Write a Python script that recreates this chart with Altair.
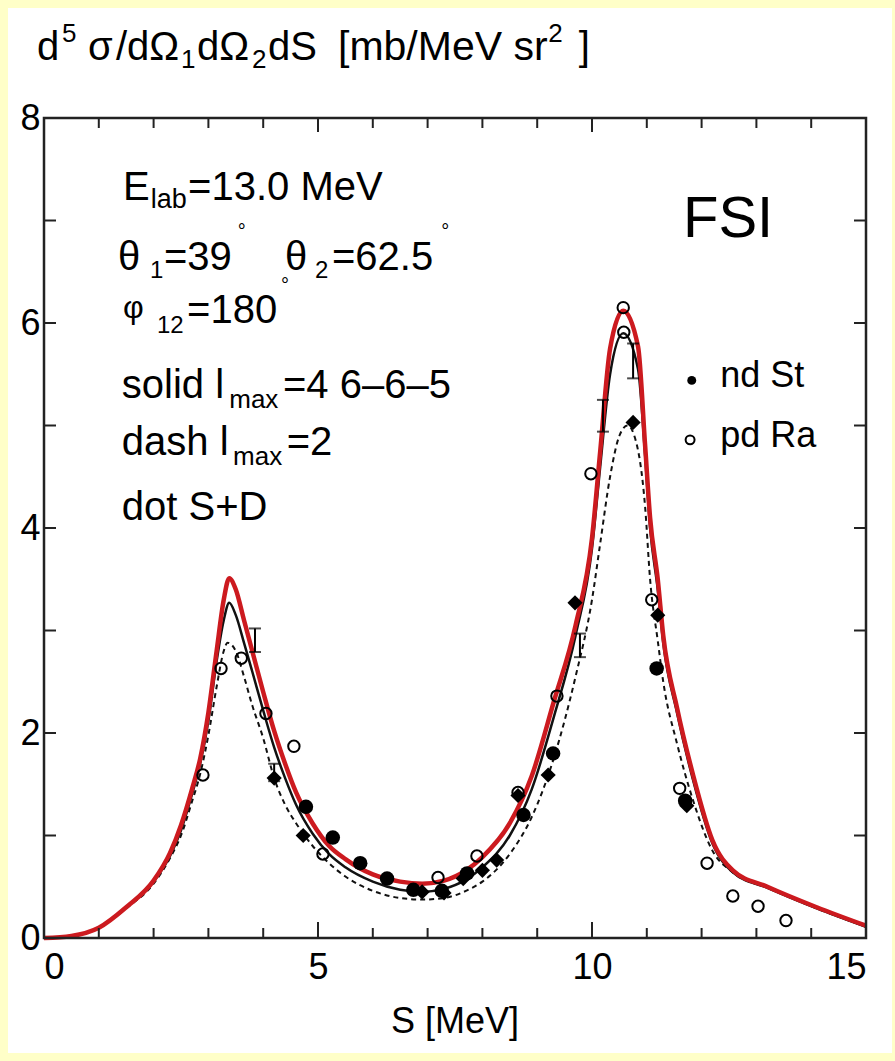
import altair as alt
import pandas as pd

FONT = "Liberation Sans"

# ---- theory curves ----
red_s = [0, 0.5, 1.0, 1.5, 2.0, 2.3, 2.5, 2.7, 2.85, 3.0, 3.15, 3.28, 3.38, 3.5, 3.65, 3.8, 4.0, 4.2, 4.4, 4.6,
         4.9, 5.2, 5.5, 6.0, 6.5, 6.9, 7.3, 7.7, 8.0, 8.5, 8.9, 9.3, 9.7, 10.0, 10.15, 10.33, 10.57, 10.84, 10.97,
         11.06, 11.2, 11.3, 11.55, 11.84, 12.2, 12.57, 13.2, 14.1, 15.0]
red_y = [0, 0.02, 0.1, 0.3, 0.56, 0.83, 1.1, 1.45, 1.75, 2.2, 2.8, 3.3, 3.51, 3.4, 3.1, 2.8, 2.4, 2.02, 1.7, 1.42,
         1.12, 0.9, 0.77, 0.62, 0.55, 0.53, 0.56, 0.66, 0.79, 1.12, 1.58, 2.3, 3.05, 3.9, 4.75, 5.75, 6.12, 5.77, 4.8,
         4.1, 3.5, 2.95, 2.25, 1.6, 0.95, 0.66, 0.5, 0.3, 0.12]

black_s = red_s
black_y = [0, 0.02, 0.1, 0.3, 0.55, 0.8, 1.05, 1.4, 1.7, 2.12, 2.7, 3.1, 3.27, 3.15, 2.88, 2.6, 2.22, 1.86, 1.56, 1.3,
           1.02, 0.82, 0.69, 0.55, 0.47, 0.45, 0.48, 0.57, 0.69, 1.0, 1.45, 2.15, 2.95, 3.8, 4.6, 5.5, 5.9, 5.55, 4.7,
           4.0, 3.4, 2.88, 2.2, 1.55, 0.92, 0.64, 0.49, 0.29, 0.11]

dash_s = [0, 0.5, 1.0, 1.5, 2.0, 2.3, 2.5, 2.7, 2.85, 3.0, 3.15, 3.28, 3.35, 3.5, 3.65, 3.8, 4.0, 4.2, 4.4, 4.6,
          4.9, 5.2, 5.5, 6.0, 6.5, 6.9, 7.3, 7.7, 8.0, 8.5, 8.9, 9.3, 9.7, 10.0, 10.15, 10.33, 10.5, 10.65, 10.8,
          10.97, 11.06, 11.2, 11.3, 11.55, 11.84, 12.2, 12.57, 13.2, 14.1, 15.0]
dash_y = [0, 0.02, 0.1, 0.29, 0.53, 0.78, 1.0, 1.33, 1.6, 1.98, 2.45, 2.8, 2.88, 2.8, 2.55, 2.27, 1.95, 1.56, 1.3, 1.12,
          0.9, 0.73, 0.6, 0.46, 0.39, 0.375, 0.39, 0.46, 0.55, 0.82, 1.18, 1.75, 2.55, 3.3, 3.85, 4.5, 4.9, 5.0, 4.85,
          4.2, 3.5, 2.9, 2.5, 1.9, 1.35, 0.85, 0.64, 0.49, 0.29, 0.11]

# ---- data points ----
nd_s = [4.78, 5.27, 5.77, 6.26, 6.74, 7.26, 7.72, 8.75, 9.29, 11.18, 11.7]
nd_y = [1.28, 0.98, 0.73, 0.58, 0.47, 0.46, 0.63, 1.2, 1.8, 2.63, 1.34]

pd_s = [2.9, 3.23, 3.6, 4.05, 4.56, 5.09, 7.19, 7.9, 8.65, 9.36, 9.98, 10.57, 10.58, 11.09, 11.6, 12.1, 12.57,
        13.03, 13.54]
pd_y = [1.59, 2.63, 2.73, 2.19, 1.87, 0.82, 0.59, 0.8, 1.42, 2.36, 4.53, 6.15, 5.91, 3.3, 1.46, 0.73, 0.41,
        0.31, 0.17]

dia_s = [4.2, 4.73, 6.9, 7.3, 7.65, 8.0, 8.26, 8.65, 9.2, 9.69, 10.75, 11.2, 11.73]
dia_y = [1.56, 1.0, 0.45, 0.44, 0.58, 0.66, 0.76, 1.39, 1.59, 3.27, 5.03, 3.15, 1.29]

err_s = [3.85, 4.2, 9.78, 10.2, 10.75]
err_lo = [2.79, 1.53, 2.74, 4.94, 5.46]
err_hi = [3.02, 1.70, 2.97, 5.25, 5.80]

# ---- axis ticks ----
x_major = [0, 5, 10, 15]
x_minor = [1, 2, 3, 4, 6, 7, 8, 9, 11, 12, 13, 14]
y_ticks = [1, 2, 3, 4, 5, 6, 7]
x_labels = [0, 5, 10, 15]
y_labels = [0, 2, 4, 6, 8]

# ---- annotation text pieces (data units) ----
txt_t = ["E", "lab", "=13.0 MeV",
         "θ", "1", "=39", "θ", "2", "=62.5",
         "φ", "12", "=180",
         "solid l", "max", "=4 6–6–5",
         "dash l", "max", "=2",
         "dot S+D",
         "FSI",
         "nd St", "pd Ra",
         "d", "5", "σ", "/dΩ", "1", "dΩ", "2", "dS", "[mb/MeV sr", "2", "]"]
txt_x = [1.44, 1.95, 2.63,
         1.35, 1.934, 2.19, 4.40, 4.945, 5.255,
         1.44, 2.062, 2.61,
         1.42, 3.38, 4.36,
         1.42, 3.45, 4.43,
         1.42,
         11.66,
         12.34, 12.34,
         -0.128, 0.328, 0.803, 1.314, 2.50, 2.792, 3.796, 4.088, 5.365, 9.20, 9.76]
txt_y = [7.20, 7.12, 7.20,
         6.52, 6.44, 6.52, 6.52, 6.44, 6.52,
         6.05, 5.90, 6.00,
         5.27, 5.17, 5.27,
         4.71, 4.61, 4.71,
         4.08,
         6.84,
         5.38, 4.79,
         8.569, 8.745, 8.569, 8.569, 8.491, 8.569, 8.491, 8.569, 8.569, 8.745, 8.569]
txt_fs = [40, 27, 40,
          40, 24, 40, 40, 24, 40,
          32, 24, 40,
          40, 26, 40,
          40, 26, 40,
          40,
          58,
          36, 36,
          40, 26, 40, 40, 26, 40, 26, 40, 41, 26, 40]

deg_x = [3.61, 7.32, 4.40]
deg_y = [6.83, 6.83, 6.30]

xtitle_x = [7.5]
xtitle_y = [-0.93]

leg_fill_x, leg_fill_y = [11.82], [5.44]
leg_open_x, leg_open_y = [11.79], [4.86]

W, H = 822, 820

xs = alt.Scale(domain=[0, 15], nice=False)
ys = alt.Scale(domain=[0, 8], nice=False)

X = lambda f: alt.X(f, type="quantitative", scale=xs,
                    axis=alt.Axis(values=x_labels, format="d", ticks=False, domain=False, grid=False,
                                  title=None, labelFont=FONT, labelFontSize=36, labelColor="black",
                                  labelPadding=12, zindex=1))
Y = lambda f: alt.Y(f, type="quantitative", scale=ys,
                    axis=alt.Axis(values=y_labels, format="d", ticks=False, domain=False, grid=False,
                                  title=None, labelFont=FONT, labelFontSize=36, labelColor="black",
                                  labelPadding=4, zindex=1))

one = pd.DataFrame({"a": [0]})

panel = alt.Chart(one).mark_rect(fill="white", strokeWidth=0).encode(
    x=alt.value(-36), x2=alt.value(W + 26), y=alt.value(-110), y2=alt.value(H + 115))


def curve(s, y, **kw):
    return alt.Chart(pd.DataFrame({"s": s, "y": y})).mark_line(interpolate="monotone", **kw).encode(
        x=X("s"), y=Y("y"))


dash_line = curve(dash_s, dash_y, color="#111111", strokeWidth=2, strokeDash=[5, 4])
black_line = curve(black_s, black_y, color="#111111", strokeWidth=2.5)
red_line = curve(red_s, red_y, color="#cc1a1f", strokeWidth=4.5)

nd_pts = alt.Chart(pd.DataFrame({"s": nd_s, "y": nd_y})).mark_point(
    shape="circle", filled=True, size=210, color="black", opacity=1).encode(x=X("s"), y=Y("y"))
pd_pts = alt.Chart(pd.DataFrame({"s": pd_s, "y": pd_y})).mark_point(
    shape="circle", filled=False, size=130, color="black", strokeWidth=2, opacity=1).encode(x=X("s"), y=Y("y"))
dia_pts = alt.Chart(pd.DataFrame({"s": dia_s, "y": dia_y})).mark_point(
    shape="diamond", filled=True, size=230, color="black", opacity=1).encode(x=X("s"), y=Y("y"))

err_df = pd.DataFrame({"s": err_s, "lo": err_lo, "hi": err_hi})
err_bar = alt.Chart(err_df).mark_rule(color="black", strokeWidth=2).encode(x=X("s"), y=Y("lo"), y2="hi")
err_cap_lo = alt.Chart(err_df).mark_tick(color="black", orient="horizontal", size=12, thickness=2).encode(
    x=X("s"), y=Y("lo"))
err_cap_hi = alt.Chart(err_df).mark_tick(color="black", orient="horizontal", size=12, thickness=2).encode(
    x=X("s"), y=Y("hi"))

tick_col = "#222222"
xmaj = pd.DataFrame({"s": x_major})
xmin = pd.DataFrame({"s": x_minor})
yt = pd.DataFrame({"y": y_ticks})
bot_major = alt.Chart(xmaj).mark_rule(color=tick_col, strokeWidth=2).encode(
    x=X("s"), y=alt.value(H), y2=alt.value(H - 16))
bot_minor = alt.Chart(xmin).mark_rule(color=tick_col, strokeWidth=2).encode(
    x=X("s"), y=alt.value(H), y2=alt.value(H - 10))
top_major = alt.Chart(xmaj).mark_rule(color=tick_col, strokeWidth=2).encode(
    x=X("s"), y=alt.value(0), y2=alt.value(14))
top_minor = alt.Chart(xmin).mark_rule(color=tick_col, strokeWidth=2).encode(
    x=X("s"), y=alt.value(0), y2=alt.value(10))
left_t = alt.Chart(yt).mark_rule(color=tick_col, strokeWidth=2).encode(
    y=Y("y"), x=alt.value(0), x2=alt.value(12))
right_t = alt.Chart(yt).mark_rule(color=tick_col, strokeWidth=2).encode(
    y=Y("y"), x=alt.value(W), x2=alt.value(W - 12))

frame = alt.Chart(one).mark_rect(fill="white", fillOpacity=0, stroke=tick_col, strokeWidth=2.5).encode(
    x=alt.value(0), x2=alt.value(W), y=alt.value(0), y2=alt.value(H))

txt_df = pd.DataFrame({"t": txt_t, "s": txt_x, "y": txt_y, "fs": txt_fs})
texts = alt.Chart(txt_df).mark_text(align="left", baseline="alphabetic", font=FONT, color="black").encode(
    x=X("s"), y=Y("y"), text="t:N", size=alt.Size("fs:Q", scale=None, legend=None))

deg = alt.Chart(pd.DataFrame({"s": deg_x, "y": deg_y, "t": ["°"] * 3})).mark_text(
    align="center", baseline="alphabetic", font=FONT, fontSize=20, color="black").encode(
    x=X("s"), y=Y("y"), text="t:N")

xtitle = alt.Chart(pd.DataFrame({"s": xtitle_x, "y": xtitle_y, "t": ["S [MeV]"]})).mark_text(
    align="center", baseline="alphabetic", font=FONT, fontSize=36, color="black").encode(
    x=X("s"), y=Y("y"), text="t:N")

leg_fill = alt.Chart(pd.DataFrame({"s": leg_fill_x, "y": leg_fill_y})).mark_point(
    shape="circle", filled=True, size=80, color="black", opacity=1).encode(x=X("s"), y=Y("y"))
leg_open = alt.Chart(pd.DataFrame({"s": leg_open_x, "y": leg_open_y})).mark_point(
    shape="circle", filled=False, size=80, color="black", strokeWidth=2, opacity=1).encode(x=X("s"), y=Y("y"))

chart = alt.layer(
    panel, dash_line, black_line, red_line, pd_pts, nd_pts, dia_pts, err_bar, err_cap_lo, err_cap_hi,
    bot_major, bot_minor, top_major, top_minor, left_t, right_t, frame, texts, deg, xtitle, leg_fill, leg_open
).properties(
    width=W, height=H,
    autosize=alt.AutoSizeParams(type="none"),
    padding={"left": 44, "top": 118, "right": 29, "bottom": 123},
    background="#FFFFC8",
).configure_view(stroke=None)

chart.save("out.html", embed_options={"renderer": "svg", "actions": False})
